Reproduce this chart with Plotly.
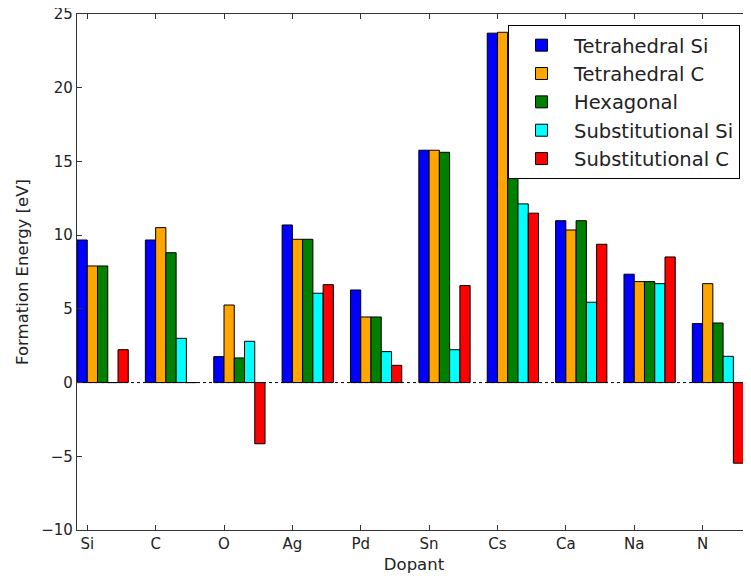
import plotly.graph_objects as go

dopants = ["Si", "C", "O", "Ag", "Pd", "Sn", "Cs", "Ca", "Na", "N"]
series_names = ["Tetrahedral Si", "Tetrahedral C", "Hexagonal", "Substitutional Si", "Substitutional C"]
tetra_si = [9.67, 9.67, 1.76, 10.69, 6.28, 15.76, 23.70, 10.98, 7.35, 4.00]
tetra_c = [7.91, 10.51, 5.26, 9.72, 4.45, 15.76, 23.76, 10.35, 6.85, 6.71]
hexagonal = [7.91, 8.81, 1.67, 9.72, 4.45, 15.62, 23.60, 10.98, 6.85, 4.04]
subst_si = [0.0, 3.00, 2.80, 6.06, 2.10, 2.23, 12.12, 5.45, 6.71, 1.78]
subst_c = [2.23, 0.0, -4.15, 6.64, 1.17, 6.58, 11.49, 9.38, 8.52, -5.47]
colors = ["#0000ff", "#ffa500", "#008000", "#00ffff", "#ff0000"]
y_ticks = [-10, -5, 0, 5, 10, 15, 20, 25]

all_series = [tetra_si, tetra_c, hexagonal, subst_si, subst_c]
bar_w = 0.15
idx = list(range(len(dopants)))

fig = go.Figure()
for k, (name, vals, col) in enumerate(zip(series_names, all_series, colors)):
    fig.add_trace(go.Bar(
        x=idx, y=vals, name=name, width=bar_w, offset=k * bar_w,
        marker=dict(color=col, line=dict(color="black", width=1)),
        legendgroup=name,
    ))

fig.add_shape(type="line", xref="paper", yref="y", x0=0, x1=1, y0=0, y1=0,
              line=dict(color="black", width=1, dash="dot"), layer="below")

fig.update_layout(
    width=743, height=573,
    margin=dict(l=69, r=0, t=6, b=51, autoexpand=False),
    paper_bgcolor="white", plot_bgcolor="white",
    barmode="overlay",
    font=dict(family="DejaVu Sans", size=15, color="#222222"),
    showlegend=True,
    legend=dict(x=0.6395, y=0.9787, xanchor="left", yanchor="top",
                bgcolor="white", bordercolor="black", borderwidth=1,
                font=dict(family="DejaVu Sans", size=19.5, color="#222222"),
                tracegroupgap=0, itemwidth=55),
    xaxis=dict(range=[0, 9.858], tickvals=[i + bar_w for i in idx], ticktext=dopants,
               ticks="inside", ticklen=5, tickcolor="#333", mirror="ticks",
               showline=True, linecolor="#333", linewidth=1.3, showgrid=False,
               zeroline=False, tickfont=dict(size=15), automargin=False,
               ticklabeloverflow="allow",
               title=dict(text="Dopant", font=dict(size=16.5), standoff=6)),
    yaxis=dict(range=[-10, 25], tickvals=y_ticks, ticktext=[str(v).replace("-", "\u2212") for v in y_ticks],
               ticks="inside", ticklen=5, tickcolor="#333", mirror="ticks",
               showline=True, linecolor="#333", linewidth=1.3, showgrid=False,
               zeroline=False, tickfont=dict(size=15), automargin=False,
               ticklabeloverflow="allow",
               title=dict(text="Formation Energy [eV]", font=dict(size=16.5), standoff=8)),
)

fig.write_html("out.html")
